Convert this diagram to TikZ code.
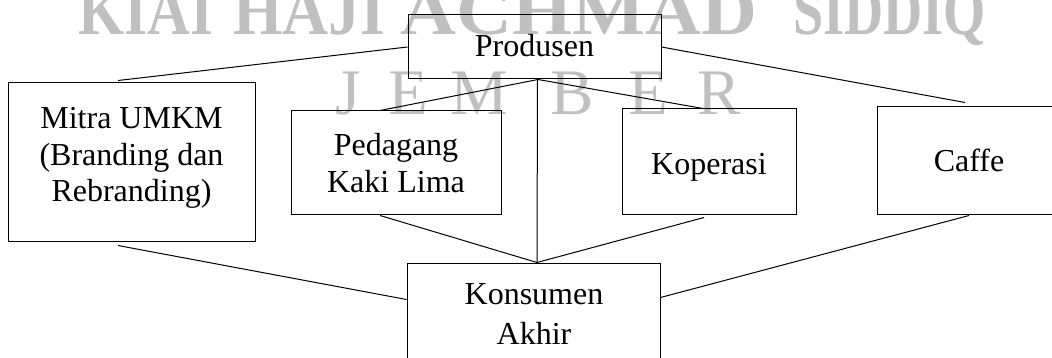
\documentclass[tikz,border=0pt]{standalone}
\usepackage{fontspec}
\setmainfont{Liberation Serif}
\usepackage{graphicx}
\definecolor{wm}{RGB}{192,192,192}
\begin{document}
\begin{tikzpicture}[x=1pt,y=-1pt,
  box/.style={draw=black, line width=1pt, inner sep=0pt},
  conn/.style={draw=black, line width=1pt},
  lbl/.style={font=\fontsize{32pt}{36.8pt}\selectfont, inner sep=0pt, anchor=base},
  wmb/.style={text=wm, inner sep=0pt, anchor=base west, font=\bfseries\fontsize{60pt}{66pt}\selectfont},
  wmj/.style={text=wm, inner sep=0pt, anchor=base west, font=\fontsize{65pt}{70pt}\selectfont}]
\useasboundingbox (0,0) rectangle (1052,358);
\clip (0,0) rectangle (1052,358);
% watermark
\node[wmb] (w1) at (78,35) {\resizebox{135pt}{46pt}{KIAI}};
\node[wmb] (w2) at (233,35) {\resizebox{152pt}{46pt}{HAJI}};
\node[wmb] (w3) at (400,35) {\resizebox{357pt}{46pt}{ACHMAD}};
\node[wmb] (w4) at (793,35) {\resizebox{193pt}{46pt}{SIDDIQ}};
\node[wmj] (j1) at (335,115) {J};
\node[wmj] (j2) at (388,115) {E};
\node[wmj] (j3) at (450,115) {M};
\node[wmj] (j4) at (550,115) {B};
\node[wmj] (j5) at (628,115) {E};
\node[wmj] (j6) at (697,115) {R};
% boxes
\node[box, minimum width=253pt, minimum height=64pt] (produsen) at (534.5,47) {};
\node[box, minimum width=247pt, minimum height=158pt] (mitra) at (131.5,162) {};
\node[box, minimum width=210pt, minimum height=104pt] (pedagang) at (396,163) {};
\node[box, minimum width=174pt, minimum height=106pt] (koperasi) at (709,162) {};
\node[box, minimum width=184pt, minimum height=108pt] (caffe) at (969,161) {};
\node[box, minimum width=253pt, minimum height=127pt] (konsumen) at (533.5,326.5) {};
% texts
\node[lbl] (produsenT) at (534.5,57) {Produsen};
\node[lbl] (mitraT) at (131.5,128.3) {\begin{tabular}[t]{@{}c@{}}Mitra UMKM\\(Branding dan\\Rebranding)\end{tabular}};
\node[lbl] (pedagangT) at (396,156) {\begin{tabular}[t]{@{}c@{}}Pedagang\\Kaki Lima\end{tabular}};
\node[lbl] (koperasiT) at (709,175) {Koperasi};
\node[lbl] (caffeT) at (969,172) {Caffe};
\node[lbl, font=\fontsize{32pt}{40pt}\selectfont] (konsumenT) at (534,304) {\begin{tabular}[t]{@{}c@{}}Konsumen\\Akhir\end{tabular}};
% connectors
\draw[conn] (produsen.west) -- ([xshift=-13.5pt,yshift=2pt]mitra.north);
\draw[conn] ([xshift=3.5pt]produsen.south) -- ([xshift=-16pt]pedagang.north);
\draw[conn] ([xshift=3.5pt]produsen.south) -- ([xshift=-6pt]koperasi.north);
\draw[conn] ([xshift=3pt]produsen.south) -- ([xshift=3.5pt]konsumen.north);
\draw[conn] (produsen.east) -- ([xshift=-4pt,yshift=4pt]caffe.north);
\draw[conn] ([xshift=-13.5pt,yshift=-4pt]mitra.south) -- ([yshift=-37pt]konsumen.north west);
\draw[conn] ([xshift=-16pt]pedagang.south) -- ([xshift=3.5pt]konsumen.north);
\draw[conn] ([xshift=-5pt,yshift=-2pt]koperasi.south) -- ([xshift=3.5pt]konsumen.north);
\draw[conn] (caffe.south) -- ([yshift=-35pt]konsumen.north east);
\end{tikzpicture}
\end{document}
